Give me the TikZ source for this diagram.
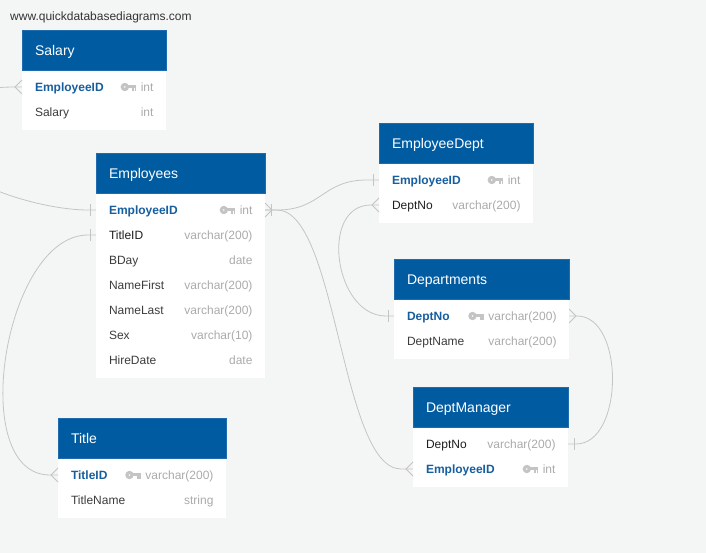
\documentclass[tikz,border=0pt]{standalone}
\usepackage{fontspec}
\setmainfont{Liberation Sans}
\definecolor{bgc}{HTML}{F4F6F5}
\definecolor{hdrblue}{HTML}{005BA1}
\definecolor{hdredge}{HTML}{1F6BAE}
\definecolor{pkc}{HTML}{175E9F}
\definecolor{fkc}{HTML}{1E1E1E}
\definecolor{nmc}{HTML}{3C3C3C}
\definecolor{typec}{HTML}{ABABAB}
\definecolor{keyc}{HTML}{C4C4C4}
\definecolor{linec}{HTML}{C4C4C4}
\definecolor{webc}{HTML}{333333}
\tikzset{
  hdr/.style={fill=hdrblue, draw=hdredge, line width=0.5pt, text=white,
    font=\fontsize{14}{16}\selectfont, minimum height=40, inner xsep=13pt,
    inner ysep=0pt, outer sep=0pt, align=left, anchor=north west,
    text height=11.5pt, text depth=0pt},
  bodybox/.style={fill=white, inner sep=0pt, outer sep=0pt},
  rowbox/.style={inner sep=0pt, outer sep=0pt, minimum height=25},
  cell/.style={inner sep=0pt, outer sep=0pt, font=\fontsize{12}{14}\selectfont,
    text height=8.6pt, text depth=0pt},
  pkname/.style={cell, text=pkc, font=\fontsize{12}{14}\selectfont\bfseries},
  fkname/.style={cell, text=fkc},
  nmname/.style={cell, text=nmc},
  typetext/.style={cell, text=typec},
  conn/.style={draw=linec, line width=0.8pt},
  webtext/.style={inner sep=0pt, text=webc, font=\fontsize{12}{14}\selectfont,
    text height=8.6pt, text depth=0pt, anchor=west}
}
\newcommand\ertable[6]{%
  \pgfmathsetmacro\ertw{#4-26}%
  \pgfmathsetmacro\erbh{#6*25+10}%
  \gdef\erw{#4}%
  \node[bodybox, minimum width=#4, minimum height=\erbh, anchor=north west] (#1-b) at (#2,#3+40) {};
  \node[hdr, text width=\ertw pt] (#1) at (#2,#3) {#5};
}
\newcommand\ertrow[5]{%
  \node[rowbox, minimum width=\erw, anchor=west] (#1-#2)
    at ([yshift={-(17+(#2-1)*25)}]#1-b.north west) {};
  \node[#5name, anchor=west] (#1-#2-n) at ([xshift=13pt]#1-#2.west) {#3};
  \node[typetext, anchor=east] (#1-#2-t) at ([xshift=-12.5pt]#1-#2.east) {#4};
}
\newcommand\erkey[1]{%
  \begin{scope}[shift={(#1-t.west)}]
    \fill[keyc, even odd rule] (-16,0) circle (4.2) (-16,0) circle (1.1);
    \fill[keyc] (-12.8,-1.7) rectangle (-4.5,1.4);
    \fill[keyc] (-8.6,1.4) rectangle (-6.9,3.6);
    \fill[keyc] (-6.2,1.4) rectangle (-4.5,3.6);
  \end{scope}}
\newcommand\barL[1]{\draw[conn] ([xshift=-6pt,yshift=6pt]#1.west) -- ([xshift=-6pt,yshift=-6pt]#1.west);}
\newcommand\barR[1]{\draw[conn] ([xshift=6pt,yshift=6pt]#1.east) -- ([xshift=6pt,yshift=-6pt]#1.east);}
\newcommand\crowL[1]{\draw[conn] ([yshift=7pt]#1.west) -- ([xshift=-7pt]#1.west) -- ([yshift=-7pt]#1.west);}
\newcommand\crowR[1]{\draw[conn] ([yshift=7pt]#1.east) -- ([xshift=7pt]#1.east) -- ([yshift=-7pt]#1.east);}
\begin{document}
\begin{tikzpicture}[x=1pt,y=-1pt]
\fill[bgc] (0,0) rectangle (706,553);
\useasboundingbox (0,0) rectangle (706,553);
\clip (0,0) rectangle (706,553);

\node[webtext] (web) at (10,16) {www.quickdatabasediagrams.com};

% Salary
\ertable{sal}{22}{30}{144}{Salary}{2}
\ertrow{sal}{1}{EmployeeID}{int}{pk}\erkey{sal-1}
\ertrow{sal}{2}{Salary}{int}{nm}

% Employees
\ertable{emp}{96}{153}{169}{Employees}{7}
\ertrow{emp}{1}{EmployeeID}{int}{pk}\erkey{emp-1}
\ertrow{emp}{2}{TitleID}{varchar(200)}{fk}
\ertrow{emp}{3}{BDay}{date}{nm}
\ertrow{emp}{4}{NameFirst}{varchar(200)}{nm}
\ertrow{emp}{5}{NameLast}{varchar(200)}{nm}
\ertrow{emp}{6}{Sex}{varchar(10)}{nm}
\ertrow{emp}{7}{HireDate}{date}{nm}

% EmployeeDept
\ertable{ed}{379}{123}{154}{EmployeeDept}{2}
\ertrow{ed}{1}{EmployeeID}{int}{pk}\erkey{ed-1}
\ertrow{ed}{2}{DeptNo}{varchar(200)}{fk}

% Departments
\ertable{dep}{394}{259}{175}{Departments}{2}
\ertrow{dep}{1}{DeptNo}{varchar(200)}{pk}\erkey{dep-1}
\ertrow{dep}{2}{DeptName}{varchar(200)}{nm}

% DeptManager
\ertable{dm}{413}{387}{155}{DeptManager}{2}
\ertrow{dm}{1}{DeptNo}{varchar(200)}{fk}
\ertrow{dm}{2}{EmployeeID}{int}{pk}\erkey{dm-2}

% Title
\ertable{ttl}{58}{418}{168}{Title}{2}
\ertrow{ttl}{1}{TitleID}{varchar(200)}{pk}\erkey{ttl-1}
\ertrow{ttl}{2}{TitleName}{string}{nm}

% connectors
\draw[conn] (sal-1.west) -- ++(-8,0) .. controls +(-40,0) and (-60,100) .. (-60,140)
  .. controls (-60,180) and +(-50,0) .. ([xshift=-8pt]emp-1.west) -- (emp-1.west);
\draw[conn] (emp-1.east) -- ++(12,0) .. controls +(45,0) and +(-45,0) .. ([xshift=-12pt]ed-1.west) -- (ed-1.west);
\draw[conn] (emp-1.east) -- ++(12,0) .. controls +(60,0) and +(-60,0) .. ([xshift=-12pt]dm-2.west) -- (dm-2.west);
\draw[conn] (ed-2.west) -- ++(-8,0) .. controls +(-52,0) and +(-52,0) .. ([xshift=-8pt]dep-1.west) -- (dep-1.west);
\draw[conn] (dep-1.east) -- ++(8,0) .. controls +(48,0) and +(48,0) .. ([xshift=8pt]dm-1.east) -- (dm-1.east);
\draw[conn] (emp-2.west) -- ++(-8,0) .. controls +(-84,0) and +(-84,0) .. ([xshift=-8pt]ttl-1.west) -- (ttl-1.west);

% markers
\crowL{sal-1}
\barL{emp-1}
\crowR{emp-1}\barR{emp-1}
\barL{ed-1}
\crowL{dm-2}
\crowL{ed-2}
\barL{dep-1}
\crowR{dep-1}
\barR{dm-1}
\barL{emp-2}
\crowL{ttl-1}
\end{tikzpicture}
\end{document}
